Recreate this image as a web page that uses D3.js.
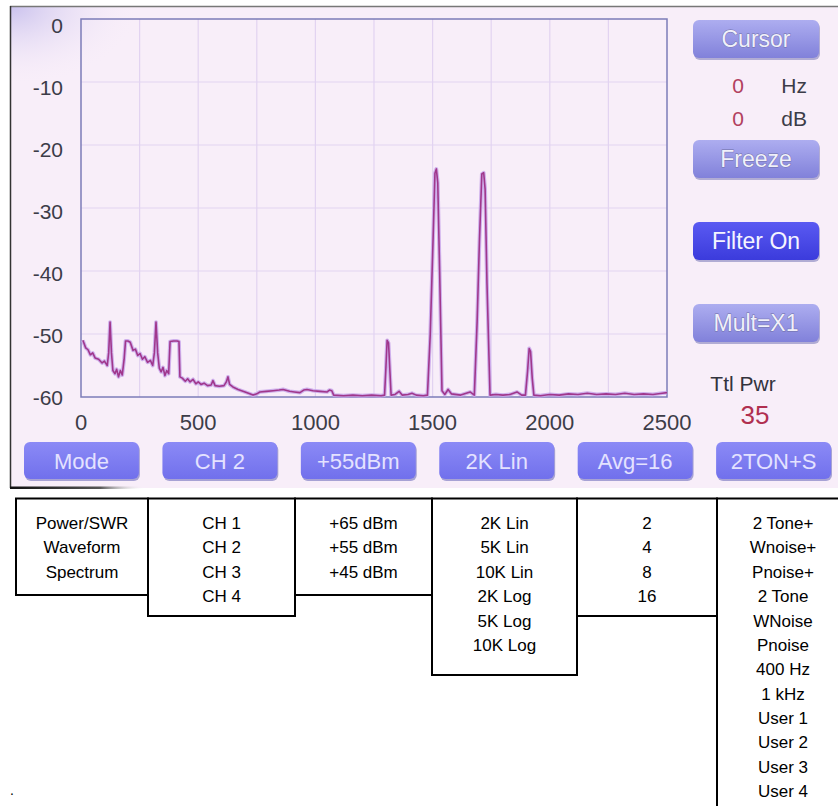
<!DOCTYPE html>
<html>
<head>
<meta charset="utf-8">
<script src="https://cdn.jsdelivr.net/npm/d3@7"></script>
<style>
  body { margin: 0; background: #fff; }
  svg { display: block; font-family: "Liberation Sans", Arial, sans-serif; }
</style>
</head>
<body>
<div class="main"></div>
<script>
// axis ticks
const xTicks = [0, 500, 1000, 1500, 2000, 2500];
const yTicks = [0, -10, -20, -30, -40, -50, -60];

// spectrum trace (Hz, dB)
const freqHz = [8, 20, 30, 40, 50, 60, 75, 90, 100, 112, 118, 124, 130, 136, 145, 152, 160, 168, 176, 184,
    190, 200, 210, 222, 232, 242, 252, 262, 272, 284, 296, 306, 313, 320, 327, 334, 342, 350, 358, 366,
    374, 380, 395, 410, 418, 422, 432, 445, 455, 465, 478, 490, 500, 512, 525, 540, 555, 563, 572, 590,
    610, 620, 627, 634, 648, 670, 700, 720, 734, 750, 763, 790, 820, 845, 862, 890, 910, 934, 950, 964,
    990, 1020, 1050, 1060, 1070, 1078, 1120, 1160, 1200, 1240, 1280, 1295, 1300, 1306, 1312, 1318, 1323, 1340, 1357, 1370,
    1395, 1412, 1430, 1460, 1478, 1490, 1502, 1510, 1516, 1522, 1530, 1540, 1552, 1566, 1580, 1620, 1660, 1678, 1690, 1700,
    1710, 1718, 1724, 1732, 1745, 1770, 1800, 1830, 1860, 1880, 1896, 1905, 1912, 1918, 1925, 1932, 1960, 2000, 2040, 2080,
    2120, 2160, 2200, 2240, 2280, 2320, 2360, 2400, 2440, 2480, 2500];
const levelDb = [-51.0, -52.2, -52.5, -53.3, -53.0, -53.8, -54.0, -54.6, -54.3, -55.0, -53.0, -48.1, -53.0, -55.8, -56.3, -55.6, -56.8, -55.8, -56.5, -54.0,
    -51.1, -51.1, -51.3, -52.6, -52.4, -53.4, -53.1, -54.0, -53.6, -54.5, -54.2, -55.0, -53.0, -48.1, -53.0, -55.4, -56.0, -55.3, -56.6, -55.8,
    -56.3, -51.2, -51.1, -51.1, -51.2, -56.8, -57.0, -57.5, -57.1, -57.6, -57.2, -57.9, -57.6, -58.0, -57.8, -58.2, -58.1, -57.4, -58.2, -58.3,
    -58.2, -57.6, -56.8, -58.0, -58.4, -58.8, -59.2, -59.5, -59.7, -59.5, -59.2, -59.1, -59.0, -58.9, -58.8, -59.1, -59.2, -59.3, -58.9, -58.8,
    -59.0, -59.1, -59.2, -58.9, -59.0, -59.7, -59.8, -59.7, -59.8, -59.7, -59.8, -59.7, -56.0, -51.0, -51.4, -56.0, -59.7, -59.6, -59.1, -59.7,
    -59.6, -59.4, -59.7, -59.8, -59.7, -50.0, -35.0, -24.5, -23.8, -26.0, -40.0, -59.0, -59.6, -58.8, -59.5, -59.7, -59.2, -59.7, -48.0, -35.0,
    -24.6, -24.4, -27.0, -42.0, -59.7, -59.6, -59.7, -59.6, -59.2, -59.7, -59.7, -56.0, -52.3, -52.8, -57.0, -59.7, -59.8, -59.6, -59.7, -59.5,
    -59.6, -59.4, -59.6, -59.5, -59.6, -59.4, -59.6, -59.5, -59.6, -59.4, -59.3];

// on-screen controls
const sideButtons = ["Cursor", "Freeze", "Filter On", "Mult=X1"];
const sideTops = [20, 140, 222, 304];
const activeButton = "Filter On";
const cursorVals = ["0", "0"];
const cursorUnits = ["Hz", "dB"];
const ttlPwr = 35;
const bottomButtons = ["Mode", "CH 2", "+55dBm", "2K Lin", "Avg=16", "2TON+S"];

// menu table under the screen
const modeOpts = ["Power/SWR", "Waveform", "Spectrum"];
const chOpts = ["CH 1", "CH 2", "CH 3", "CH 4"];
const pwrOpts = ["+65 dBm", "+55 dBm", "+45 dBm"];
const spanOpts = ["2K Lin", "5K Lin", "10K Lin", "2K Log", "5K Log", "10K Log"];
const avgOpts = ["2", "4", "8", "16"];
const srcOpts = ["2 Tone+", "Wnoise+", "Pnoise+", "2 Tone", "WNoise", "Pnoise", "400 Hz", "1 kHz",
    "User 1", "User 2", "User 3", "User 4"];

const W = 838, H = 806;

const svg = d3.select(".main").append("svg")
    .attr("width", W)
    .attr("height", H);

const defs = svg.append("defs");

const addGrad = function (id, top, bottom) {
    const g = defs.append("linearGradient")
        .attr("id", id)
        .attr("x1", 0).attr("y1", 0).attr("x2", 0).attr("y2", 1);
    g.append("stop").attr("offset", "0%").attr("stop-color", top);
    g.append("stop").attr("offset", "100%").attr("stop-color", bottom);
};
addGrad("btnLav", "#adadf0", "#8181da");
addGrad("btnBlue", "#5a5af2", "#3b3bdc");
addGrad("btnLow", "#8b8af6", "#7170ec");

const glare = defs.append("radialGradient")
    .attr("id", "glare")
    .attr("cx", 0).attr("cy", 0).attr("r", 1);
glare.append("stop").attr("offset", "0%").attr("stop-color", "#c4bcec").attr("stop-opacity", 0.9);
glare.append("stop").attr("offset", "100%").attr("stop-color", "#f7eef9").attr("stop-opacity", 0);

const edge = defs.append("linearGradient")
    .attr("id", "edge")
    .attr("x1", 0).attr("y1", 0).attr("x2", 1).attr("y2", 0);
edge.append("stop").attr("offset", "0%").attr("stop-color", "#111");
edge.append("stop").attr("offset", "30%").attr("stop-color", "#555");
edge.append("stop").attr("offset", "45%").attr("stop-color", "#fff").attr("stop-opacity", 0);

// screen background
svg.append("rect")
    .attr("x", 10).attr("y", 6)
    .attr("width", W - 10).attr("height", 482)
    .attr("fill", "#f8eef9");
svg.append("rect")
    .attr("x", 10).attr("y", 6)
    .attr("width", 130).attr("height", 80)
    .attr("fill", "url(#glare)");
svg.append("line")
    .attr("x1", 10).attr("x2", W).attr("y1", 6.5).attr("y2", 6.5)
    .attr("stroke", "#777").attr("stroke-width", 1.5);
svg.append("line")
    .attr("x1", 10.5).attr("x2", 10.5).attr("y1", 6).attr("y2", 488)
    .attr("stroke", "#333").attr("stroke-width", 1.5);
svg.append("rect")
    .attr("x", 10).attr("y", 486.5)
    .attr("width", 300).attr("height", 2.5)
    .attr("fill", "url(#edge)");

// plot
const x = d3.scaleLinear().domain([0, 2500]).range([81, 667]);
const y = d3.scaleLinear().domain([0, -60]).range([19, 397]);
const yLab = d3.scaleLinear().domain([0, -60]).range([25, 397]);

const grid = svg.append("g").attr("class", "grid");
grid.selectAll("line.v")
    .data(d3.range(250, 2500, 250))
    .enter().append("line")
    .attr("class", "v")
    .attr("x1", d => x(d)).attr("x2", d => x(d))
    .attr("y1", y(0)).attr("y2", y(-60))
    .attr("stroke", "#e2d3f1").attr("stroke-width", 1.2);
grid.selectAll("line.h")
    .data(yTicks.slice(1, -1))
    .enter().append("line")
    .attr("class", "h")
    .attr("x1", x(0)).attr("x2", x(2500))
    .attr("y1", d => y(d)).attr("y2", d => y(d))
    .attr("stroke", "#e2d3f1").attr("stroke-width", 1.2);

svg.append("rect")
    .attr("x", x(0)).attr("y", y(0))
    .attr("width", x(2500) - x(0)).attr("height", y(-60) - y(0))
    .attr("fill", "none")
    .attr("stroke", "#7c7cb8").attr("stroke-width", 1.5);

svg.append("g").selectAll("text")
    .data(yTicks)
    .enter().append("text")
    .attr("x", 63)
    .attr("y", d => yLab(d))
    .attr("dy", "0.36em")
    .attr("text-anchor", "end")
    .attr("font-size", 21)
    .attr("fill", "#3c3c48")
    .text(d => d);

svg.append("g").selectAll("text")
    .data(xTicks)
    .enter().append("text")
    .attr("x", d => x(d))
    .attr("y", 422)
    .attr("dy", "0.36em")
    .attr("text-anchor", "middle")
    .attr("font-size", 22)
    .attr("fill", "#3c3c48")
    .text(d => d);

const spectrum = freqHz.map((f, i) => [f, levelDb[i]]);
const line = d3.line()
    .x(d => x(d[0]))
    .y(d => y(d[1]));

svg.append("path")
    .datum(spectrum)
    .attr("d", line)
    .attr("fill", "none")
    .attr("stroke", "#c8a4ea").attr("stroke-width", 3.8)
    .attr("stroke-linejoin", "round")
    .attr("opacity", 0.85);
svg.append("path")
    .datum(spectrum)
    .attr("d", line)
    .attr("fill", "none")
    .attr("stroke", "#a0378c").attr("stroke-width", 1.6)
    .attr("stroke-linejoin", "round");

// right hand panel
const side = svg.append("g").selectAll("g")
    .data(sideButtons)
    .enter().append("g")
    .attr("transform", (d, i) => "translate(693," + sideTops[i] + ")");

side.append("rect")
    .attr("x", 1).attr("y", 2)
    .attr("width", 126).attr("height", 38).attr("rx", 6)
    .attr("fill", "#6a6ab0").attr("opacity", 0.5);
side.append("rect")
    .attr("width", 126).attr("height", 38).attr("rx", 6)
    .attr("fill", d => d === activeButton ? "url(#btnBlue)" : "url(#btnLav)");
side.append("text")
    .attr("x", 63).attr("y", 19)
    .attr("dy", "0.36em")
    .attr("text-anchor", "middle")
    .attr("font-size", 23)
    .attr("fill", d => d === activeButton ? "#f4f4ff" : "#f0f0fa")
    .attr("stroke", d => d === activeButton ? "none" : "#6e6ea6")
    .attr("stroke-width", 0.8)
    .attr("paint-order", "stroke")
    .text(d => d);

const readout = svg.append("g").selectAll("g")
    .data(cursorVals)
    .enter().append("g")
    .attr("transform", (d, i) => "translate(0," + (85 + i * 33) + ")");
readout.append("text")
    .attr("x", 738).attr("dy", "0.36em")
    .attr("text-anchor", "middle")
    .attr("font-size", 21)
    .attr("fill", "#b2405e")
    .text(d => d);
readout.append("text")
    .attr("x", 807).attr("dy", "0.36em")
    .attr("text-anchor", "end")
    .attr("font-size", 21)
    .attr("fill", "#3c3c48")
    .text((d, i) => cursorUnits[i]);

svg.append("text")
    .attr("x", 743).attr("y", 383)
    .attr("dy", "0.36em")
    .attr("text-anchor", "middle")
    .attr("font-size", 21)
    .attr("fill", "#33333d")
    .text("Ttl Pwr");
svg.append("text")
    .attr("x", 755).attr("y", 415)
    .attr("dy", "0.36em")
    .attr("text-anchor", "middle")
    .attr("font-size", 26)
    .attr("fill", "#b02f50")
    .text(ttlPwr);

// bottom soft keys
const keyScale = d3.scaleBand()
    .domain(bottomButtons)
    .range([24, 831])
    .paddingInner(0.17);

const keys = svg.append("g").selectAll("g")
    .data(bottomButtons)
    .enter().append("g")
    .attr("transform", d => "translate(" + keyScale(d) + ",442)");
keys.append("rect")
    .attr("x", 1).attr("y", 2)
    .attr("width", keyScale.bandwidth()).attr("height", 37).attr("rx", 6)
    .attr("fill", "#5656b0").attr("opacity", 0.5);
keys.append("rect")
    .attr("width", keyScale.bandwidth()).attr("height", 37).attr("rx", 6)
    .attr("fill", "url(#btnLow)");
keys.append("text")
    .attr("x", keyScale.bandwidth() / 2).attr("y", 19)
    .attr("dy", "0.36em")
    .attr("text-anchor", "middle")
    .attr("font-size", 22)
    .attr("fill", "#e4e2ff")
    .text(d => d);

// menu tree table
const columns = [modeOpts, chOpts, pwrOpts, spanOpts, avgOpts, srcOpts];
const colEdges = [16, 148, 295, 432, 577, 717, 846];
const colBottoms = [595, 616, 595, 675, 616, 816];
const rowY = d3.scaleLinear().domain([0, 11]).range([523, 791]);

const table = svg.append("g").attr("class", "table");

table.selectAll("rect")
    .data(columns)
    .enter().append("rect")
    .attr("x", (d, i) => colEdges[i])
    .attr("y", 498.5)
    .attr("width", (d, i) => colEdges[i + 1] - colEdges[i])
    .attr("height", (d, i) => colBottoms[i] - 498.5)
    .attr("fill", "none")
    .attr("stroke", "#000")
    .attr("stroke-width", 2);

const cols = table.selectAll("g")
    .data(columns)
    .enter().append("g")
    .attr("transform", (d, i) => "translate(" + ((colEdges[i] + colEdges[i + 1]) / 2) + ",0)");

cols.selectAll("text")
    .data(d => d)
    .enter().append("text")
    .attr("x", 0)
    .attr("y", (d, i) => rowY(i))
    .attr("dy", "0.36em")
    .attr("text-anchor", "middle")
    .attr("font-size", 17)
    .attr("fill", "#000")
    .text(d => d);

// last column runs off the page, so centre its text by hand
cols.filter((d, i) => i === 5)
    .attr("transform", "translate(783,0)");

svg.append("text")
    .attr("x", 10).attr("y", 795)
    .attr("font-size", 14)
    .text(".");
</script>
</body>
</html>
